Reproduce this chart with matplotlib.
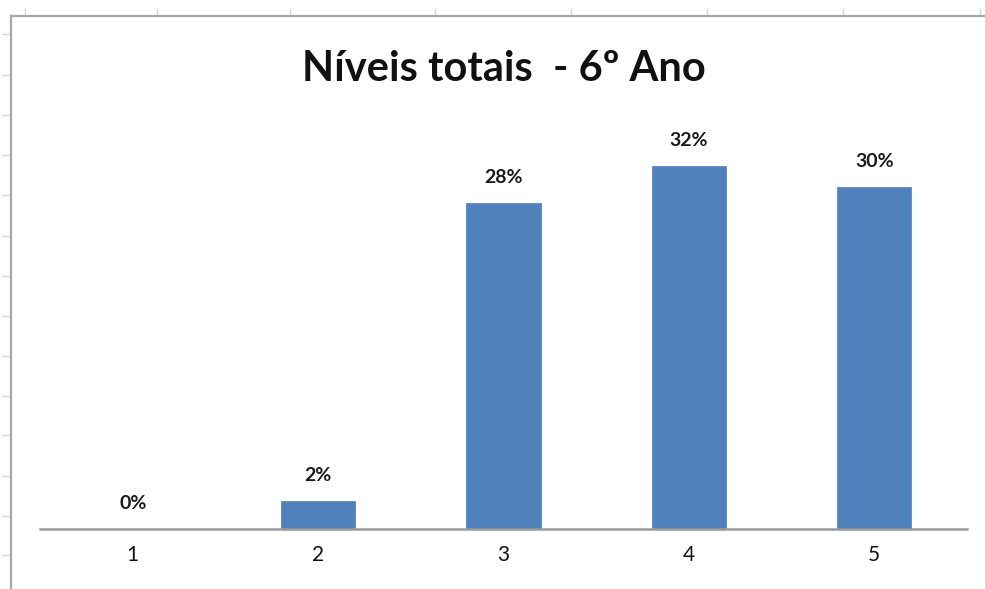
import matplotlib
matplotlib.use("Agg")
import matplotlib.pyplot as plt
from matplotlib.lines import Line2D

categories = ["1", "2", "3", "4", "5"]
values = [0.0, 0.0249, 0.284, 0.316, 0.298]
title = "Níveis totais  - 6º Ano"

W, H = 985, 589
fig = plt.figure(figsize=(W / 100, H / 100), dpi=100)
fig.patch.set_facecolor("white")

def fx(px):
    return px / W

def fy(py):
    return 1 - py / H

# spreadsheet frame decoration
fig.add_artist(Line2D([fx(11), fx(11)], [fy(16), fy(589)], color="#a8a8a8", lw=1.6))
fig.add_artist(Line2D([fx(11), fx(985)], [fy(16), fy(16)], color="#a8a8a8", lw=1.6))
for y in [34, 75, 115, 155, 195, 236, 276, 316, 356, 396, 435, 476, 516, 555]:
    fig.add_artist(Line2D([fx(3), fx(9)], [fy(y), fy(y)], color="#d4d4d4", lw=1.0))
for x in [25, 157, 290, 435, 571, 707, 843, 980]:
    fig.add_artist(Line2D([fx(x), fx(x)], [fy(9), fy(14)], color="#d4d4d4", lw=1.0))

left, right = 40, 967
bottom, top = 529.3, 69.4
ax = fig.add_axes([fx(left), fy(bottom), fx(right - left), fy(top) - fy(bottom)])
ax.set_facecolor("none")

xs = list(range(1, len(categories) + 1))
ax.bar(xs, values, width=0.4, color="#4f81bd", edgecolor="#4f81bd", linewidth=0.5, zorder=2)
ax.set_xlim(0.5, len(categories) + 0.5)
ax.set_ylim(0, 0.4)

for s in ["top", "right", "left"]:
    ax.spines[s].set_visible(False)
ax.spines["bottom"].set_color("#9a9a9a")
ax.spines["bottom"].set_linewidth(1.8)
ax.set_yticks([])
ax.set_xticks(xs)
ax.set_xticklabels(categories, fontsize=15, family="Lato", color="#111111")
ax.tick_params(axis="x", length=0, pad=11)

for x, v in zip(xs, values):
    ax.annotate(f"{v*100:.0f}%", (x, v), xytext=(0, 14.4), textcoords="offset points",
                ha="center", va="baseline", fontsize=14, family="Lato",
                fontweight="bold", color="#1a1a1a")

fig.text(fx(504), fy(81), title, ha="center", va="baseline",
         fontsize=30, family="Lato", fontweight="bold", color="#111111")

fig.savefig("out.png", dpi=100, facecolor="white")
